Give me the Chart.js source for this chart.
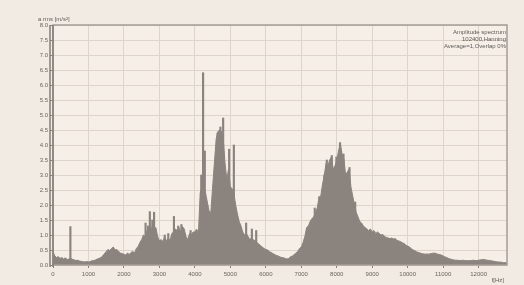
<!DOCTYPE html>
<html>
<head>
<meta charset="utf-8">
<script src="https://cdn.jsdelivr.net/npm/chart.js@4/dist/chart.umd.min.js"></script>
<style>
  html, body { margin: 0; padding: 0; background: #f2ebe3; }
  #wrap { width: 524px; height: 285px; }
</style>
</head>
<body>
<div id="wrap"><canvas id="spec"></canvas></div>
<script>
// spectrum envelope, one value every 50 Hz from 0 to 12800 Hz
const stepHz = 50;
const envelope = [
  // 0 - 950
  0.45, 0.3, 0.25, 0.28, 0.22, 0.25, 0.2, 0.24, 0.18, 0.2, 0.22, 0.19, 0.17, 0.15, 0.16, 0.13, 0.12, 0.11, 0.1, 0.12,
  // 1000 - 1950
  0.1, 0.12, 0.14, 0.15, 0.17, 0.2, 0.22, 0.25, 0.3, 0.38, 0.45, 0.52, 0.48, 0.55, 0.6, 0.5, 0.52, 0.45, 0.4, 0.38,
  // 2000 - 2950
  0.36, 0.33, 0.4, 0.35, 0.42, 0.45, 0.4, 0.55, 0.62, 0.75, 0.85, 1.0, 0.95, 1.15, 1.05, 1.3, 1.1, 1.2, 1.25, 0.95,
  // 3000 - 3950
  0.8, 0.85, 0.78, 0.95, 0.8, 0.9, 0.82, 1.05, 1.1, 1.2, 1.15, 1.25, 1.1, 1.28, 1.2, 0.95, 0.85, 1.05, 1.0, 1.1,
  // 4000 - 4950
  1.1, 1.2, 1.05, 2.4, 2.6, 2.55, 2.4, 2.1, 1.8, 1.75, 2.6, 3.4, 4.2, 4.45, 4.5, 4.45, 4.2, 3.4, 2.85, 3.2,
  // 5000 - 5950
  2.6, 2.55, 2.4, 2.0, 1.7, 1.45, 1.3, 1.1, 1.0, 1.05, 0.95, 0.85, 0.9, 0.85, 0.8, 0.75, 0.7, 0.65, 0.6, 0.55,
  // 6000 - 6950
  0.52, 0.5, 0.45, 0.42, 0.38, 0.35, 0.32, 0.3, 0.27, 0.25, 0.24, 0.22, 0.2, 0.22, 0.28, 0.3, 0.35, 0.4, 0.45, 0.55,
  // 7000 - 7950
  0.6, 0.75, 0.95, 1.25, 1.3, 1.45, 1.55, 1.6, 1.75, 1.9, 2.25, 2.3, 2.7, 3.0, 3.4, 3.3, 3.5, 3.6, 3.2, 3.3,
  // 8000 - 8950
  3.5, 3.8, 4.05, 3.7, 3.55, 3.0, 3.1, 3.2, 2.6, 2.3, 2.0, 1.75, 1.6, 1.45, 1.4, 1.3, 1.25, 1.2, 1.15, 1.2,
  // 9000 - 9950
  1.1, 1.15, 1.05, 1.1, 1.05, 1.0, 1.02, 0.95, 0.92, 0.9, 0.88, 0.9, 0.87, 0.88, 0.82, 0.8, 0.78, 0.74, 0.72, 0.66,
  // 10000 - 10950
  0.63, 0.6, 0.55, 0.5, 0.48, 0.44, 0.42, 0.4, 0.38, 0.37, 0.36, 0.37, 0.36, 0.38, 0.39, 0.4, 0.38, 0.36, 0.35, 0.33,
  // 11000 - 11950
  0.3, 0.27, 0.25, 0.22, 0.2, 0.18, 0.17, 0.16, 0.16, 0.15, 0.15, 0.16, 0.15, 0.15, 0.14, 0.15, 0.15, 0.16, 0.15, 0.15,
  // 12000 - 12800
  0.16, 0.17, 0.18, 0.18, 0.17, 0.16, 0.15, 0.14, 0.13, 0.12, 0.11, 0.1, 0.1, 0.09, 0.08, 0.08, 0.07
];

// narrow peaks standing above the envelope
const spikeFreq = [490, 2610, 2680, 2730, 2800, 2850, 3150, 3250, 3410, 3530, 3620, 3880,
                   4180, 4232, 4280, 4640, 4720, 4797, 4966, 5099, 5445, 5607, 5729,
                   7380, 7510, 7650, 7720, 7860, 7990, 8093, 8190, 8290, 8360, 8520];
const spikeAmp  = [1.28, 1.4, 1.3, 1.78, 1.5, 1.76, 1.0, 1.05, 1.62, 1.3, 1.35, 1.15,
                   3.0, 6.41, 3.8, 4.4, 4.6, 4.9, 3.86, 4.0, 1.4, 1.2, 1.15,
                   1.9, 2.28, 3.0, 3.5, 3.65, 3.6, 4.08, 3.7, 3.0, 3.25, 2.1];

const xTicks = [0, 1000, 2000, 3000, 4000, 5000, 6000, 7000, 8000, 9000, 10000, 11000, 12000];
const infoLines = ["Amplitude spectrum", "102400,Hanning", "Average=1,Overlap 0%"];
const yTitle = "a rms [m/s\u00b2]";
const xTitle = "f[Hz]";

const fillColor = "#8b847e";
const font = "Liberation Sans";

const envData = envelope.map((v, i) => ({ x: i * stepHz, y: v }));
const spikeData = spikeFreq.map((f, i) => ({ x: f, y: spikeAmp[i] }));

// background, frame and the text around the plot
const decor = {
  id: "decor",
  beforeDraw(chart) {
    const c = chart.ctx;
    c.save();
    c.fillStyle = "#f2ebe3";
    c.fillRect(0, 0, chart.width, chart.height);
    const a = chart.chartArea;
    c.fillStyle = "#f5efe8";
    c.fillRect(a.left, a.top, a.right - a.left, a.bottom - a.top);
    c.restore();
  },
  afterDraw(chart) {
    const c = chart.ctx;
    const a = chart.chartArea;
    c.save();
    c.strokeStyle = "#a49d96";
    c.lineWidth = 1.5;
    c.strokeRect(a.left, a.top, a.right - a.left, a.bottom - a.top);
    // double left axis line
    c.strokeStyle = "#857e78";
    c.lineWidth = 1.5;
    [a.left - 3, a.left].forEach(x => {
      c.beginPath();
      c.moveTo(x, a.top);
      c.lineTo(x, a.bottom + 2);
      c.stroke();
    });
    c.fillStyle = "#5f5a55";
    c.font = "6px '" + font + "'";
    c.textAlign = "left";
    c.fillText(yTitle, 38, 21);
    c.textAlign = "right";
    infoLines.forEach((t, i) => c.fillText(t, a.right - 1, 34 + i * 6.8));
    c.fillText(xTitle, a.right - 3, 282);
    c.restore();
  }
};

new Chart(document.getElementById("spec"), {
  data: {
    datasets: [
      {
        type: "bar",
        data: spikeData,
        backgroundColor: fillColor,
        barThickness: 1.5,
        order: 2
      },
      {
        type: "line",
        data: envData,
        borderColor: fillColor,
        backgroundColor: fillColor,
        borderWidth: 1,
        pointRadius: 0,
        fill: "origin",
        tension: 0,
        order: 1
      }
    ]
  },
  options: {
    responsive: true,
    maintainAspectRatio: false,
    animation: false,
    layout: { padding: { left: 0, right: 17, top: 25, bottom: 0 } },
    plugins: { legend: { display: false }, tooltip: { enabled: false } },
    scales: {
      x: {
        type: "linear",
        min: 0,
        max: 12800,
        offset: false,
        border: { display: false },
        grid: { offset: false, color: "#ddd4ca", lineWidth: 1, tickLength: 3, tickColor: "#8a837c" },
        ticks: {
          autoSkip: false,
          maxRotation: 0,
          padding: 3,
          color: "#6a645f",
          font: { family: font, size: 6 },
          callback: v => String(v)
        },
        afterBuildTicks: s => { s.ticks = xTicks.map(v => ({ value: v })); },
        afterFit: s => { s.height = 20; }
      },
      y: {
        min: 0,
        max: 8,
        border: { display: false },
        grid: { color: "#ddd4ca", lineWidth: 1, tickLength: 3, tickColor: "#8a837c" },
        ticks: {
          stepSize: 0.5,
          padding: 2,
          color: "#6a645f",
          font: { family: font, size: 6 },
          callback: v => v.toFixed(1)
        },
        afterFit: s => { s.width = 53; }
      }
    }
  },
  plugins: [decor]
});
</script>
</body>
</html>
